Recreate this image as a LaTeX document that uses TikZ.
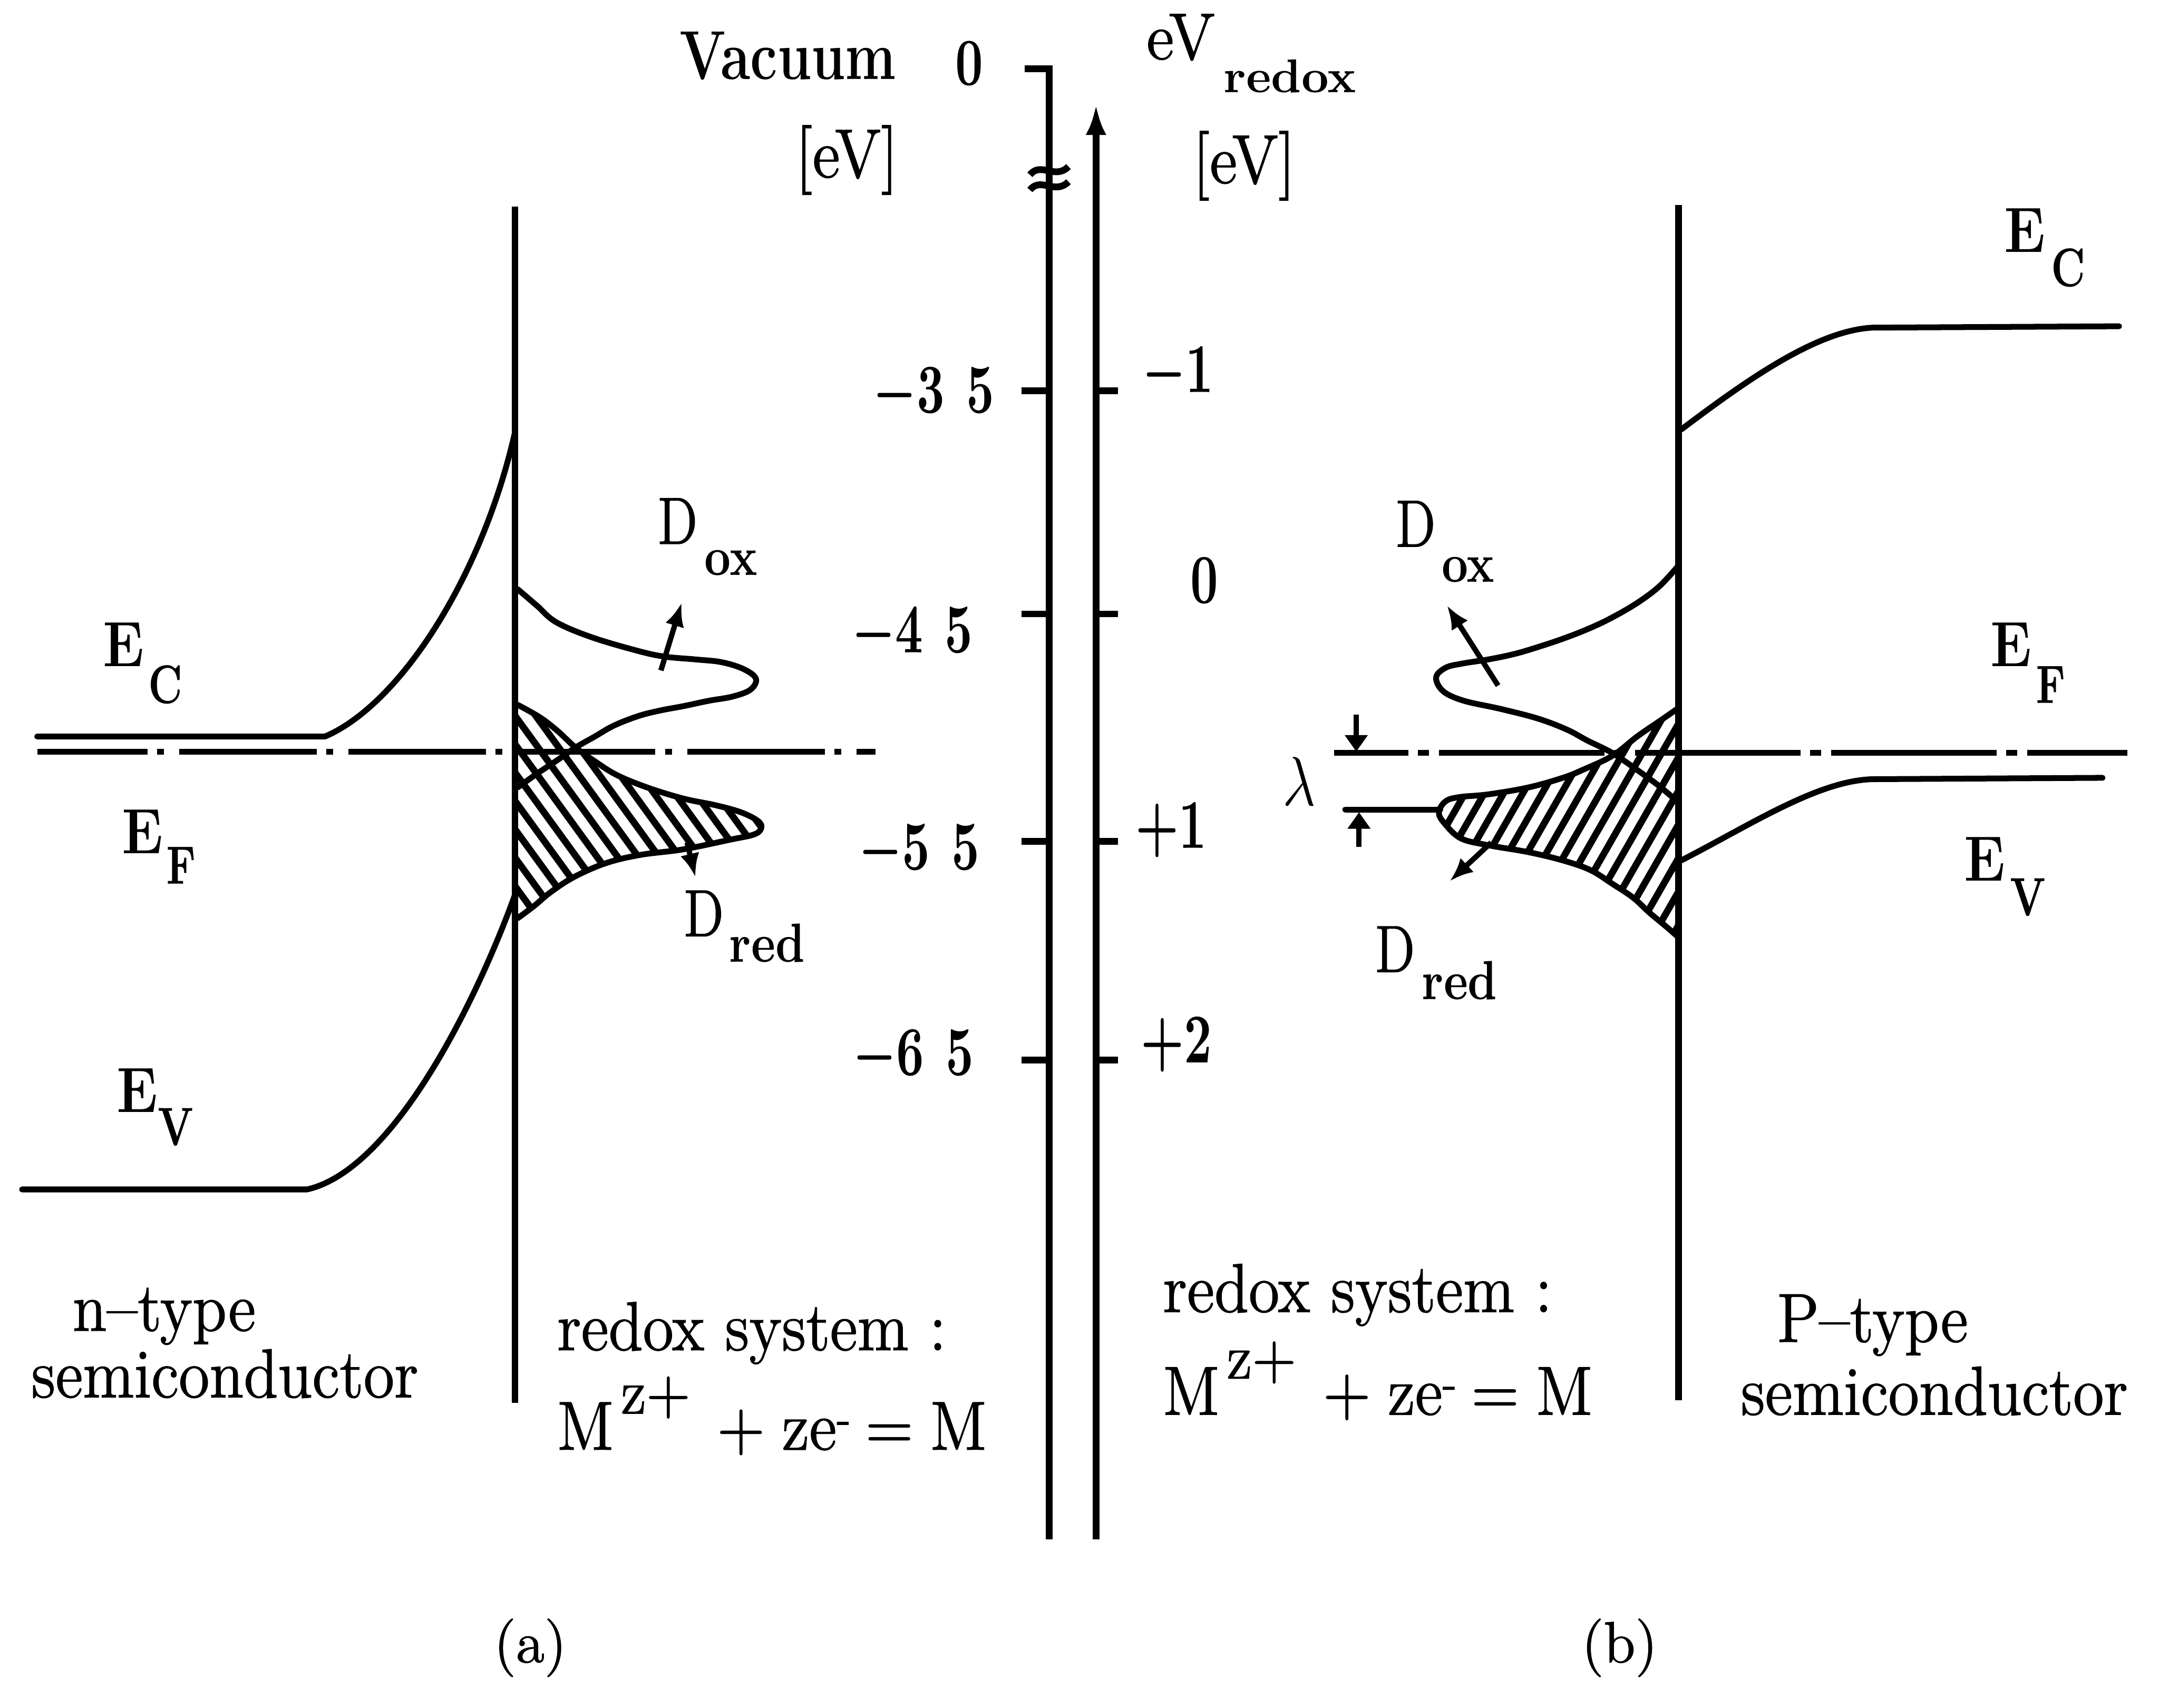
\RequirePackage{fix-cm}
\documentclass[tikz,border=0pt]{standalone}
\usepackage{fontspec}
\usepackage{graphicx}
\usetikzlibrary{arrows.meta}
\newfontfamily\hv{lmroman12-regular.otf}[FakeBold=1.2]
\newcommand\fs[1]{\fontsize{#1}{#1}\selectfont}
\newcommand\vst[2]{\scalebox{1}[#1]{#2}}
\newcommand\tk[1]{\vst{1.45}{\boldmath$#1$}}
\newcommand\eqn{M\hspace{1.5pt}\raisebox{6.8pt}{\fs{12}z+}\hspace{5.5pt}+\hspace{3.5pt}ze\raisebox{3pt}{\fs{9}-}\hspace{3pt}=\hspace{3.5pt}M}
\tikzset{
  band/.style={line width=1.2pt, line cap=round, line join=round},
  wall/.style={line width=1.4pt},
  fermiA/.style={line width=1.2pt, dash pattern=on 10mm off 0.7mm on 0.5mm off 1.1mm, dash phase=2mm},
  fermiB/.style={line width=1.2pt, dash pattern=on 12mm off 0.7mm on 0.8mm off 0.74mm, dash phase=6.62mm},
  hatch/.style={line width=1.4pt},
  ptr/.style={line width=1.1pt, -{Latex[length=1.7mm,width=1.4mm]}},
  lam/.style={line width=1.1pt, -{Triangle[length=1.2mm,width=1.6mm]}},
  txt/.style={inner sep=0pt, anchor=base west, font=\hv\fs{13}},
  elbl/.style={inner sep=0pt, anchor=base west, font=\fs{11.5}\bfseries},
  esub/.style={inner sep=0pt, anchor=base west, font=\fs{8}\bfseries},
  dlbl/.style={inner sep=0pt, anchor=base west, font=\hv\fs{11}},
  dsub/.style={inner sep=0pt, anchor=base west, font=\fs{9.5}\bfseries},
  num/.style={inner sep=0pt, anchor=base west, font=\fs{10}},
}
\begin{document}
\begin{tikzpicture}[x=0.1mm, y=-0.1mm]
\useasboundingbox[fill=white] (0,0) rectangle (1568,1240.6);

% ---------- central axes ----------
\coordinate (axLtick) at (744,50);
\coordinate (axLtop) at (762,50);
\coordinate (axLbot) at (762,1118);
\draw[wall] (axLtick) -- (axLtop) -- (axLbot);
\coordinate (axRbot) at (796,1118);
\coordinate (axRtop) at (796,76);
\draw[wall, -{Latex[length=2.2mm,width=1.5mm]}] (axRbot) -- (axRtop);
\draw[line width=1.4pt] (748,127) .. controls (756,117) and (766,131) .. (776,121);
\draw[line width=1.4pt] (748,138) .. controls (756,128) and (766,142) .. (776,132);
\foreach \y in {284,446,611,770} {
  \draw[wall] (742,\y) -- (762,\y);
  \draw[wall] (796,\y) -- (812,\y);
}

% ---------- top labels ----------
\node[inner sep=0pt, anchor=base west, font=\fs{11.2}\bfseries] (vac) at (493,57.7) {\vst{1.28}{Vacuum}};
\node[inner sep=0pt, anchor=base west, font=\fs{10}\bfseries] (vzero) at (693,62) {\vst{1.39}{0}};
\node[txt] (evl) at (577,128.8) {\vst{1.1}{[eV]}};
\node[txt] (evr) at (832,43) {\vst{1.05}{eV}};
\node[inner sep=0pt, anchor=base west, font=\fs{9.8}\bfseries] (redoxsub) at (888,67) {redox};
\node[txt] (evr2) at (865.5,133) {\vst{1.1}{[eV]}};

% ---------- tick labels ----------
\node[num] (t35) at (633.6,300) {\tk{-3\hspace{4.5pt}5}};
\node[num] (t45) at (618,474) {\tk{-4\hspace{4.5pt}5}};
\node[num] (t55) at (623,632) {\tk{-5\hspace{4.5pt}5}};
\node[num] (t65) at (619,781) {\tk{-6\hspace{4.5pt}5}};
\node[num] (rm1) at (829,285) {\tk{-1}};
\node[num] (r0) at (864,438) {\tk{0}};
\node[num] (rp1) at (824,616) {\tk{+1}};
\node[num] (rp2) at (828,772) {\tk{+2}};

% ---------- panel (a) ----------
\coordinate (iAt) at (374,150);
\coordinate (iAb) at (374,1019);
\draw[wall] (iAt) -- (iAb);
\draw[band] (27,535) -- (236,535) .. controls (290,512) and (350,420) .. (374,314);
\draw[band] (16,864) -- (223,864) .. controls (285,850) and (345,730) .. (374,650);
\draw[fermiA] (27,546) -- (636,546);

\begin{scope}
\clip plot[smooth, tension=0.6] coordinates {(376,512) (392,521) (405,531) (418,543) (432,553) (448,563) (470,572) (496,580) (520,585) (538,590) (550,596) (553,601) (548,606) (530,610) (496,617) (465,621) (440,627) (417,637) (400,648) (388,658) (376,667)} -- cycle;
\foreach \i in {0,...,23} \draw[hatch] ({225+15*\i},480) -- ++(160,220);
\end{scope}
\draw[band] plot[smooth, tension=0.6] coordinates {(376,512) (392,521) (405,531) (418,543) (432,553) (448,563) (470,572) (496,580) (520,585) (538,590) (550,596) (553,601) (548,606) (530,610) (496,617) (465,621) (440,627) (417,637) (400,648) (388,658) (376,667)};
\draw[band] plot[smooth, tension=0.6] coordinates {(376,428) (390,440) (404,452) (430,463) (464,473) (483,477) (505,479) (524,481) (540,486) (549,493) (545,501) (532,506) (515,509) (496,513) (480,516) (464,520) (446,527) (432,535) (418,543) (405,552) (390,562) (376,572)};

\coordinate (poxA1) at (480,487); \coordinate (poxA2) at (495,438);
\draw[ptr] (poxA1) -- (poxA2);
\coordinate (predA1) at (499,612); \coordinate (predA2) at (505,637);
\draw[ptr] (predA1) -- (predA2);

\node[elbl] (ecA) at (74,484) {\vst{1.15}{E}};
\node[esub] (ecAs) at (107,511) {\vst{1.4}{C}};
\node[elbl] (efA) at (88,620) {\vst{1.15}{E}};
\node[esub] (efAs) at (120,642) {\vst{1.4}{F}};
\node[elbl] (evA) at (84,808) {\vst{1.15}{E}};
\node[esub] (evAs) at (114,832) {\vst{1.4}{V}};

\node[dlbl] (doxA) at (477,395) {\vst{1.25}{D}};
\node[dsub] (doxAs) at (511,418) {\vst{1.2}{ox}};
\node[dlbl] (dredA) at (496,680) {\vst{1.25}{D}};
\node[dsub] (dredAs) at (529,699) {\vst{1.2}{red}};

\node[txt] (ntype) at (52,966.6) {\vst{1.1}{n\textendash type}};
\node[txt] (semiA) at (22,1015) {\vst{1.1}{semiconductor}};
\node[txt] (redoxA) at (404,980.7) {\vst{1.1}{redox system :}};
\node[txt] (eqA) at (404,1053) {\vst{1.1}{\eqn}};
\node[inner sep=0pt, anchor=base west, font=\hv\fs{12}] (labA) at (358,1207.5) {(a)};

% ---------- panel (b) ----------
\coordinate (iBt) at (1219,149);
\coordinate (iBb) at (1219,1017);
\draw[wall] (iBt) -- (iBb);
\draw[band] (1221,312) .. controls (1270,275) and (1320,240) .. (1360,238) -- (1539,237);
\draw[band] (1221,625) .. controls (1270,600) and (1320,567) .. (1360,566) -- (1527,565);
\draw[fermiB] (969,547) -- (1545,547);

\begin{scope}
\clip plot[smooth, tension=0.6] coordinates {(1218,515) (1205,524) (1189,535) (1171,549) (1150,559) (1135,565) (1110,572) (1081,577) (1060,579) (1050,582) (1045,590) (1049,598) (1061,609) (1081,614) (1110,619) (1135,625) (1155,632) (1171,642) (1186,652) (1198,663) (1210,673) (1218,680)} -- cycle;
\foreach \i in {0,...,19} \draw[hatch] ({965+14*\i},700) -- ++(140,-244);
\end{scope}
\draw[band] plot[smooth, tension=0.6] coordinates {(1218,515) (1205,524) (1189,535) (1171,549) (1150,559) (1135,565) (1110,572) (1081,577) (1060,579) (1050,582) (1045,590) (1049,598) (1061,609) (1081,614) (1110,619) (1135,625) (1155,632) (1171,642) (1186,652) (1198,663) (1210,673) (1218,680)};
\draw[band] plot[smooth, tension=0.6] coordinates {(1218,412) (1205,426) (1189,438) (1170,449) (1153,457) (1135,464) (1117,470) (1100,475) (1081,479) (1062,482) (1050,485) (1043,492) (1048,502) (1063,509) (1090,515) (1117,522) (1138,530) (1153,538) (1171,547) (1190,560) (1205,571) (1218,582)};

\draw[band] (977,588) -- (1046,588);
\coordinate (lt1) at (985,519); \coordinate (lt2) at (985,546);
\draw[lam] (lt1) -- (lt2);
\coordinate (lb1) at (987,615); \coordinate (lb2) at (987,590);
\draw[lam] (lb1) -- (lb2);
\node[inner sep=0pt, anchor=base west, font=\fs{12}] (lam) at (931,585) {\vst{1.2}{$\lambda$}};

\coordinate (poxB1) at (1088,498); \coordinate (poxB2) at (1051,440);
\draw[ptr] (poxB1) -- (poxB2);
\coordinate (predB1) at (1083,612); \coordinate (predB2) at (1053,640);
\draw[ptr] (predB1) -- (predB2);

\node[elbl] (ecB) at (1455,183) {\vst{1.15}{E}};
\node[esub] (ecBs) at (1489,208) {\vst{1.4}{C}};
\node[elbl] (efB) at (1445,484) {\vst{1.15}{E}};
\node[esub] (efBs) at (1478,511) {\vst{1.4}{F}};
\node[elbl] (evB) at (1426,640) {\vst{1.15}{E}};
\node[esub] (evBs) at (1459,665) {\vst{1.4}{V}};

\node[dlbl] (doxB) at (1013,397) {\vst{1.25}{D}};
\node[dsub] (doxBs) at (1046.5,423) {\vst{1.2}{ox}};
\node[dlbl] (dredB) at (998,706) {\vst{1.25}{D}};
\node[dsub] (dredBs) at (1032,726) {\vst{1.2}{red}};

\node[txt] (redoxB) at (844,953) {\vst{1.1}{redox system :}};
\node[txt] (eqB) at (844,1027.6) {\vst{1.1}{\eqn}};
\node[txt] (ptype) at (1290,974.7) {\vst{1.1}{P\textendash type}};
\node[txt] (semiB) at (1263.6,1027.6) {\vst{1.1}{semiconductor}};
\node[inner sep=0pt, anchor=base west, font=\hv\fs{12}] (labB) at (1148,1207.5) {(b)};
\end{tikzpicture}
\end{document}
